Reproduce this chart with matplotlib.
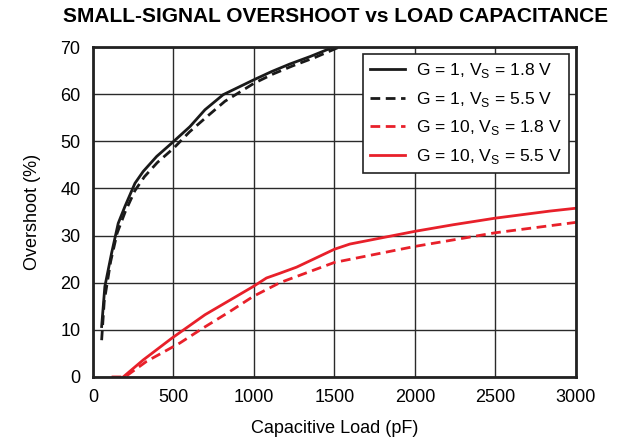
import matplotlib
matplotlib.use("Agg")
import matplotlib.pyplot as plt

plt.rcParams['font.family'] = ['Liberation Sans', 'DejaVu Sans']
plt.rcParams['mathtext.fontset'] = 'custom'
plt.rcParams['mathtext.rm'] = 'Liberation Sans'

# G = 1, VS = 1.8 V (solid black)
x_g1_18 = [54, 74, 116, 157, 199, 261, 312, 396, 489, 602, 696, 809, 996, 1110, 1223, 1350, 1480, 1520]
y_g1_18 = [10.7, 19.2, 26.3, 32.6, 36.2, 41.1, 43.6, 46.8, 49.6, 53.1, 56.7, 59.9, 63.0, 64.8, 66.4, 68.0, 69.8, 70.5]
# G = 1, VS = 5.5 V (dashed black)
x_g1_55 = [54, 70, 110, 150, 200, 260, 320, 400, 500, 600, 700, 820, 1000, 1120, 1240, 1380, 1530, 1560]
y_g1_55 = [7.8, 16.0, 24.5, 30.5, 35.0, 39.5, 42.5, 45.5, 48.5, 52.0, 55.0, 58.5, 62.3, 64.3, 66.0, 67.8, 70.0, 70.5]
# G = 10, VS = 1.8 V (dashed red)
x_g10_18 = [116, 199, 333, 540, 685, 851, 996, 1161, 1500, 2000, 2500, 3000]
y_g10_18 = [0.0, 0.0, 3.3, 7.2, 10.4, 13.9, 17.1, 20.0, 24.3, 27.7, 30.6, 32.8]
# G = 10, VS = 5.5 V (solid red)
x_g10_55 = [188, 312, 489, 696, 871, 996, 1078, 1161, 1265, 1500, 1596, 2000, 2238, 2500, 2839, 3000]
y_g10_55 = [0.0, 3.6, 8.2, 13.2, 16.7, 19.2, 21.0, 22.0, 23.3, 27.1, 28.2, 30.9, 32.3, 33.7, 35.2, 35.8]

x_ticks = [0, 500, 1000, 1500, 2000, 2500, 3000]
y_ticks = [0, 10, 20, 30, 40, 50, 60, 70]

black = '#1a1a1a'
red = '#e8202a'

fig = plt.figure(figsize=(6.28, 4.44), dpi=100)
ax = fig.add_axes([0.148, 0.151, 0.769, 0.743])

ax.plot(x_g1_18, y_g1_18, color=black, lw=2, ls='-', label=r'G = 1, V$_\mathregular{S}$ = 1.8 V')
ax.plot(x_g1_55, y_g1_55, color=black, lw=2, ls=(0, (3.5, 2)), label=r'G = 1, V$_\mathregular{S}$ = 5.5 V')
ax.plot(x_g10_18, y_g10_18, color=red, lw=2, ls=(0, (3.5, 2)), label=r'G = 10, V$_\mathregular{S}$ = 1.8 V')
ax.plot(x_g10_55, y_g10_55, color=red, lw=2, ls='-', label=r'G = 10, V$_\mathregular{S}$ = 5.5 V')

ax.set_xlim(0, 3000)
ax.set_ylim(0, 70)
ax.set_xticks(x_ticks)
ax.set_yticks(y_ticks)
ax.tick_params(length=0, labelsize=13, pad=9)
ax.grid(True, color='#2a2a2a', lw=1)
ax.set_axisbelow(True)
for s in ax.spines.values():
    s.set_linewidth(2)
    s.set_color('#222222')

ax.set_xlabel('Capacitive Load (pF)', fontsize=13, labelpad=10)
ax.set_ylabel('Overshoot (%)', fontsize=13, labelpad=14)
fig.text(0.535, 0.962, 'SMALL-SIGNAL OVERSHOOT vs LOAD CAPACITANCE', ha='center', va='center',
         fontsize=15, fontweight='bold')

leg = ax.legend(loc='upper right', fontsize=12.6, frameon=True, fancybox=False,
                handlelength=2.0, borderaxespad=0.4, labelspacing=0.55, handletextpad=0.6,
                borderpad=0.4)
leg.get_frame().set_edgecolor('#222222')
leg.get_frame().set_linewidth(1.2)
leg.get_frame().set_alpha(1)

fig.savefig('out.png', dpi=100)
